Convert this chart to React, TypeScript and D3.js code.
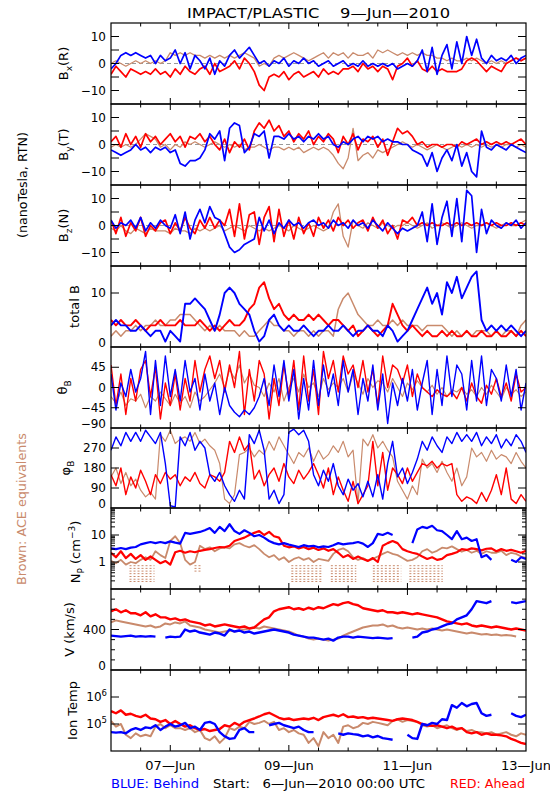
import React from "react";
import * as d3 from "d3";

// ---------- time base: hours since 6-Jun-2010 00:00 UTC, every 2 h ----------
const hours: number[] = d3.range(0, 169, 2);
const dateTickHours = [24, 72, 120, 168];
const dateTickLabels = ["07—Jun", "09—Jun", "11—Jun", "13—Jun"];

// ---------- Bx (R) ----------
const bxAhead = [-4,-1,-3,-5,-2,-3,-4, -3,-4,-2,-4,-3,-5, -2,-4,-1,-3,-4,-2, -1,-4,0,-3,-2, -1,1,-2,2,0,-3, -8,-10,-5,-4, -5,-3,-6,-4,-3,-5,-4, -3,-5,-2,-4,-3,-4,-2, -2,-1,-3,0,-2,-1,-3,-1, -2,-6,-1, 0,2,-1,1, -2,-3,-1,-3,-2, -3,-3,-3,-2, 1,2,1, -1,-3,-1,-2,-3, 0,1,2,1,2];
const bxBehind = [-2,0, 3,4,3,4,3, 2,3,0,3,1,2, 5,0,4,-2,3,1, -2,2,-4,1,-1, 3,5,2,4,6,3, 0,1,-1,1, 0,2,-1,1,0,2,0, 1,-1,0,1,-1,0,1, -1,0,-1,1,-1,0,-1,0, -1,0,-2,-1,0,-1,1, 5,-3,6,-4,3, 7,-2,8,0,10,3,9, 2,0,3,1,2, 1,3,0,2,3];
const bxAce = [0,1,0,-1,0,1,0,1,0,1,0,1, 4,3,4,3,4,3, 3,2,3,2,3,2, 3,2,3,4,3,2, -1,0,-1, 2,3,2,3,4,3,2,1,2, 3,4,2,4,3,4,2,4,3,3,4,2, 5,4,5,4, 3,4,3,4,3,4,3,3,2,2, 1,2,1,1,2,1,2, 1,0,1,0,1,0,1,2,1,2];

// ---------- By (T) ----------
const byAhead = [1,3,-1,4,0,3,-1,4,1,3,0, 2,4,1,3,-1,3,2,4,1,3, 0,-2,2,-3,1,-1,2,-2, 5,8,6,9,5,7, 3,5,1,4,2,5,0,3,1,4, 2,-3,3,0,4,-2,2,1,3,-1,2,-4,1, 6,4,5,3, 0,1,-1, 0,0,-1,0,0,-1, 1,0,1,2,0,1,0,1,0,1,0,1,2,0];
const byBehind = [-2,-3,-4,-3,-2, 0,-2,-1,-3,-1, -2,-1,-3,-2, -7,-8,-6,-6, -5,-2, 4,2,5,-6, 6,8,7, -3,-1, 4,3,5,-5,3, 3,2,4,2,3,1,3,2,4,2,3, 0,-1,1,0, 2,3,1,3,2,3,1,2,1, 1,0,0,-2,-3, -4,-8,-3,-10,-5, -2,-6,0,-8,-3, -10,-12,5, -1,-2,0,-1,-2,0,-1,-2,-3];
const byAce = [-1,0,-1,0,-1,0, 2,4,3,2, -1,0,-2,0,-1, 1,0,1,0,-1,0,1,0, -1,0,-1,0,-2,-1,-1,0,-1,-2,-1, -1,-2,-1,-2,-1,-3,-2,-1,-2,-1,-2, -4,-7,-9,-5,6, -6,-4,-3,-5, -2,-3,-2,-1, 0,1,0,-1,0, -1,-2,-1,0,-1,-2,-1,0,-1,0,-1,0,-1,0,-1,0,-1,0,0,-1,0,-1];

// ---------- Bz (N) ----------
const bzAhead = [2,-3,3,-4,1,-2,3,-4,0,-2,1, 2,-3,1,-2,3,-1,-3,2,-1, 3,-1,2,0, 6,-4,8,-5,4, 5,-7,3, 7,-6,6,-4, 2,-5,3,-3,1,-4, 3,-1,2,-2,3,0,2,-1,1, 2,-2,3,-1,2,-3,0,-5, 2,1,3,0, 1,0,1,0,0, 1,0,1,0,1,0,1,0,1,0,1,0,0,1,0,1,0];
const bzBehind = [2,-1,1,0,2,-1, 3,-2,1,-1,2,0,-1, 4,-3,5,-5,2, 6,1,7,3, 2,-3, -8,-10,-9, -7,-6,-5, 3,-2,2,-3, 1,-1,2,0,1,-1,1, 2,0,1,-1,2,0,1,-1,2,0, 1,-1,2,0,-2,1,-1,-3, -1,-2,-1,0, 5,-6,8,-7,3, 9,-4,10,-6,13, 11,-10,6,-3, 2,0,-1,1,0,2,-1,1];
const bzAce = [-1,-2,0,-2,-3,-1,-2,-3,-1,-2,-2, -2,-3,-1,-2,-2,-3,-1,-2,-1,-2, -1,0,-2,-1,0,-1,-2,0,-1,-2, -1,-2,-1,0,-1,-2,0,-1,-2,-1,0,-1,-2,-1, 5,8,-4,-8,2, 0,-1,1,0,-1,1,0,-1,0, 0,1,0,-1,0,1,-1,0,1,0,-1,0,1,0,-1,0,0,1,0,-1,0,1,0,0,1,2];

// ---------- total B ----------
const btAhead = [5,4,5,4,4,5,4,3,4,4,5, 4,4,4,5,4,4,4,5,4,3, 4,3,4,5,4,4, 5,7,8, 11,12, 9,7,8, 6,5,6,5,5,6, 5,6,5,4,5,5, 4,3,4,2,3,4,3,2,3,4, 8,6,4, 3,4,3, 2,3,2,2,3,2,3,2,2,3,2,2,3,2,2,3,2,2,3,2,3,2];
const btBehind = [4,5,4,4,3, 3,4,3,2,3, 3,1,3, 2,1,8, 8,9,8,7, 5,3,6, 10,11,10, 8,7,6, 3,1,2, 5,6,4,3, 4,3,3,4,3,2,3,3,4,3, 3,4,3,2,3,3, 4,3,3,2,4,3,1, 2,3, 5,7, 9,11,8,10,6, 12,10,13,9,11, 13,14, 5,3, 4,3,4,3,4,3,2,3];
const btAce = [2,3,2,3,3,4, 3,4,4,5,4,4,5, 5,6,6,6,5, 4,3,4,3,4,3,3, 3,2,3,2,2,3, 4,5,4,4,3, 3,2,3,3,2,3,2,3,3,2, 7,9,10,8, 6,5,4, 4,5,4,4,5,4,5,4, 4,4,3,4,4,4,4, 3,2,3,2,3,2,3, 3,3,2,3,2,3,3,2,4,5];

// ---------- theta_B ----------
const thAhead = [50,-40,30,-60,20,-30,40, 60,-20,45,-70,10,-40, 30,-50,20,-30,60,-10,40, 70,20,60,-10,50,0, 80,-60,40,-30,60, 30,-70,20,-40,50,-20, 60,-50,70,-30,40,-60, 80,20,60,-10,70,30,50,0, 60,-10,40,-40,70,0,50, 40,10,50,-20,30,0, -10,-20,-5,-15,-20,-10,-25, 0,-30,10,-20,-35,5,-15, 20,-20,10,-30,30,-10,0];
const thBehind = [30,-50,10,-20,40,-10,20, 80,-60,60,-40,70,-20, 40,-30,60,-10,20,-50, 30,-30,10,-60,0,-40, -55,-65,-50,-60,-45,-20, 20,-40,50,-20,60,-30, 40,-70,20,-50,60,-40,50,-20, 30,-40,60,-10,40,-60,20,-30, 50,-50,30,-80,10,-40, 20,-30,40,-50,10, 60,-60,40,-40,70,-20,50, 30,-50,60,-30,70,-40,40, 20,-30,50,-20,40,-50,10];
const thAce = [-20,-35,-10,-40,-25,-30,-15,-45,-20,-30,-10, -25,-40,-15,-35,-20,-45,-10,-30,-20,-5, 10,30,0,40,20,50,10,30,5, 0,-20,10,-10,20,-30,0, 20,-10,30,0,10,-20,20,-5,10, 0,20,-10,30,10,-15,20,0,15, 10,-10,20,0,-20,10,-5,15,0, -10,5,-15,0,-20,-5,-10,0,-15, -5,-20,0,-15,5,-10,-25,0,-15,-5,-20,-10];

// ---------- phi_B ----------
const phAhead = [150,100,180,60,140,90,170,120,60,150,110,160, 130,150,100,140,120,160, 110,90, 150,140,120,160, 300,250,320,260,290, 130,170,100,150, 180,120,200,140,110,170,130,160, 200,150,90,180,60,140, 80,30,120,20,60,100, 300,100,250,80,180, 150,110,180,120,160, 200,190,210,180,200,190,200, 60,30,50, 40,20,70,30,80, 150,60,180,40, 20,60,30];
const phBehind = [260,320,280,340,300, 340,300,350,320,290,340, 200,10,5, 320,280,340,260,300,270, 150,120,160,100, 60,30,80,40, 330,290,350,260, 40,80,20,60, 340,355,330,350,300, 150,100,170,120,200, 100,60,130,80,110,50, 120,50,150,40,200,300, 140,180,110,160,220, 300,260,320,280,250, 320,290,340,300,330, 300,340,280,320,290,330,270, 310,280,330,300,250];
const phAce = [140,180,110,160,100,130, 80,50,70,40, 330,300,350,290,310, 320,300,340,290,310,280, 260,200,40,20,60,240, 250,270,230,260,240, 300,260,320,280,240,200, 250,230,270,210,260,220,240, 280,250,300,230,260,20, 310,280,330,270,300,260,230, 120,80,40,100,60, 220,180,200,160,210, 160,120,180,100,140, 270,230,250,210,260,220,240, 230,200,250,210,180];

// ---------- Np (cm^-3) ----------
const npAhead = [2.2,1.5,2.5,1.4,2,1.3,1.8,1.2,1.6, 1.2,0.9,1.1,0.8, 2.3,2.6,2.2,2.5,2.3,2.6, 2.8,3,3.3,3.6,3.5,4, 6,7,8,10, 12,14,10,13, 9,8, 4,3.5,3.8,3.2,3.6,3, 3.4,2.8,3.2,2.6,3, 2.2,1.5,1.8,1.3,1.6, 1.3,1.1,1.4,1.0, 4,5,6,5, 3,2.5,2.2,2, 1.6,1.3,1.5,1.2,1.3, 1.8,2,2.3, 3,2.8,3.2,3,2.7,3.1, 3.2,2.5,3,2.6,2.8, 2.5,2.2,2.6];
const npBehind = [3.2,3,3.3,3,3.4,3.6, 4.5,5,5.5,5, 5.5,5,5.8,5.2,4.8, 12,11,12,13, 15,18,12,20,14,25, 14,11,15, 12,9,10,8, 6,5,4.5,5,4.4, 4,3.6,4.2,3.8,4,3.5,3.8,3.6, 4.2,5,4.5,4.8, 5,5.5,4.8,3.6,5, 11,10,12,10, null,null,null, 5, 16,20,18,22,15,14, 10,7,14, 7,8,6,7, 1.5,1.8,1.2, null,null,null, 1.2,1,1.5,1.3];
const npAce = [1.1,0.9,1.2,0.8,1,0.9,1.2, 1.5,1.2,2.5,1.8,1.4, 6,9,5, 1.2,0.8,1, 4,3,3.5,2.5,3.2, 3.5,3.2,4.5,5,4,3.5,4.2,3, 2,1.5,1.8,1.2,1.5,1,1.3, 1.5,1.2,1.4,1,1.3,1.2,1.1, 2,2.8,3.2,2.5, 1.5,1.2,1.4,1.1,1.3, 1.6,2,2.4,2,1.8, 1.4,1.1,1.2,1.5, 2.5,3,2.2,2.6,3.4, 3.2,3.8,3, 2.4,2.8,2.2,2.6,2,2.5,2.2, 2.2,2.6,1.8,2.2,2,1.6,1.4];
// ACE low-density quantized readings: [start hour, end hour, lowest level]
const npAceLowSpans = [[7.5, 17.6, 0.19], [33.8, 36.6, 0.46], [73, 85.7, 0.19], [89, 99.3, 0.19], [106, 117.5, 0.19], [120.8, 134.3, 0.19]];
const npAceLowLevels = [0.19, 0.23, 0.29, 0.37, 0.46, 0.58, 0.73];

// ---------- V (km/s) ----------
const vAhead = [580,600,570,590,560, 560,540,570,530,550,520, 520,500,510,490,500, 480,470,460,440,450,430,440, 450,440, 430,420,430,410,420, 460,500,520, 580,600,610,620, 600,610,595,615,600,620,610, 630,650,640,660,670,650,640, 610,600,590,580,590,570, 570,560,570,560,550,560, 550,540,530,520,500,480, 470,460,450,460, 440,430,440,430,420,430, 420,410,400,410,400,390];
const vBehind = [340,335,330,335,340,330,335,330,335, 330,null, 320,330,325,330, 400,380,390,370, 360,350,370,360,340, 400,380,390,370,380,360, 370,380,390, 400,390,380,370, 350,340,330,320, 320,310,300,310,290, 320,330,330,320,330,325, 320,315,320,315,310,315, null,null,null, 320,330, 370,380,400,410, 430,450,460, 500,520,540, 600,680, 670,660,680, null,null,null, 670,660,670,680];
const vAce = [470,490,480,470,460, 450,440,430,440,420,430, 460,450,470,460,480, 440,430,420,400,390,380,370, 380,390,380,390, 400,410,420,410, 430,420,410,400,390,380, 360,340,330,310,300,310,300, 290,300,310, 340,360,380,400, 420,430,440,440,450,430,440, 420,410,420,410,400, 410,400,410,400,390, 400,390,380,370,360, 370,360,350,355,345,350,340,345, 340,330,null,330];

// ---------- Ion Temp (K) ----------
const tAhead = [3e5,2.5e5,3.2e5,2.2e5,2.4e5, 2e5,1.8e5,2.2e5,1.6e5, 1.5e5,1.2e5,1.4e5,1.0e5,1.3e5, 1e5,8e4,9e4,7e4, 6e4,6.5e4,5.5e4,6e4,6.5e4, 9e4,8e4,1.1e5,9e4,1.2e5, 1.4e5,1.6e5,1.9e5, 2.3e5,2.6e5,2.1e5, 1.7e5,1.5e5,1.6e5,1.4e5,1.5e5, 1.6e5,1.5e5,1.7e5,1.4e5,1.8e5, 2e5,2.2e5,1.9e5,2.3e5,1.8e5, 1.9e5,1.7e5,1.8e5,1.6e5,1.7e5, 1.6e5,1.5e5,1.4e5,1.3e5,1.5e5,1.6e5, 1.5e5,1.4e5,1.2e5, 1e5,9e4,8.5e4,9e4, 8e4,7e4,8e4,6.5e4,7e4, 5e4,4.5e4,5e4,4e4,4.5e4,4e4, 4e4,3.8e4,3.5e4, 2.8e4,2.4e4,2e4,1.8e4];
const tBehind = [5e4,4.8e4,5e4,4.5e4, 6e4,7e4,6e4,7.5e4, 7e4,9e4,6e4, 8e4,1e5,8e4,9e4,1.1e5, 7e4,8e4,6e4, 1.1e5,1.2e5,1e5, 5e4,3.5e4, 2.8e4,3e4, 6e4,7e4,5e4, 5e4,null, null,9e4,1e5,1.1e5, 9e4,8e4,7e4,8e4, 6e4,5e4,5e4, null,null,null,null, 4.5e4,4e4,4.5e4,4.2e4,4e4, 3.5e4,3.8e4,3.2e4,3.6e4,3e4, 2.8e4,2.6e4, null,null, 4e4,3e4,2.8e4, 1e5,9e4,1.1e5,1e5, 1.5e5,1.4e5, 5e5,4e5,6e5,4.5e5,5.5e5,6e5, 2.5e5,2e5,2.2e5, null,null,null, 2.5e5,2e5,1.8e5,2.2e5];
const tAce = [1.3e5,8e4,1e5, 4e4,3e4,4.5e4,3.5e4,4e4,3.5e4, 8e4,1e5,7e4,9e4,7e4, 7e4,6e4,7e4,5e4,6e4, 3e4,2.5e4,3.5e4,2e4,3e4, 7e4,6e4,8e4,7e4, 1.2e5,1e5,1.1e5,1.3e5,1e5,1.2e5, 6e4,7e4,5e4,6e4,4.5e4, 4e4,2e4,3e4,1.5e4, 5e4,3e4,4e4,2e4, 8e4,9e4,7e4,8e4, 1.1e5,1e5,1.2e5,1.1e5,1e5,9e4, 1.3e5,1.5e5,1.2e5,1.4e5,1.3e5,1.2e5, 9e4,8e4,9e4,7e4,8e4,9e4, 7e4,6e4,7e4,5.5e4,6e4,5e4, 5e4,4.5e4,5e4,4e4,4.5e4,5e4, 4e4,3.5e4,4.5e4,4e4];

// ---------- axis ticks / labels ----------
const bTicks = [-10, -5, 0, 5, 10];
const bTickLabels: [number, string][] = [[-10, "−10"], [0, "0"], [10, "10"]];
const btTicks = [10];
const btTickLabels: [number, string][] = [[0, "0"], [10, "10"]];
const thTicks = [-45, 0, 45];
const thTickLabels: [number, string][] = [[-90, "−90"], [-45, "−45"], [0, "0"], [45, "45"]];
const phTicks = [90, 180, 270];
const phTickLabels: [number, string][] = [[0, "0"], [90, "90"], [180, "180"], [270, "270"]];
const npTicks = [1, 10];
const npTickLabels: [number, string][] = [[1, "1"], [10, "10"]];
const vTicks = [400];
const vMinorTicks = [100, 200, 300, 500, 600, 700];
const vTickLabels: [number, string][] = [[0, "0"], [400, "400"]];
const tTicks = [1e5, 1e6];
const tTickLabels: [number, string][] = [[1e5, "5"], [1e6, "6"]];

const BLUE = "#0000ff";
const RED = "#ff0000";
const BROWN = "#c98a6c";
const FONT = "'DejaVu Sans', Verdana, sans-serif";

const X0 = 111;
const X1 = 526;
const TOP = 23;
const PH = 80.9;
const panelTop = (i: number) => Math.round(TOP + i * PH);

type Panel = {
  log?: boolean;
  domain: [number, number];
  ticks: number[];
  minor?: number[];
  labels: [number, string][];
  expLabels?: boolean;
  series: [(number | null)[], (number | null)[], (number | null)[]];
  sw: number;
  zero?: boolean;
  titleX: number;
  titleY?: number;
  title: React.ReactNode;
};

const npMinor: number[] = [0.1, 1, 10].flatMap((d) => d3.range(2, 10).map((k) => k * d));

const panels: Panel[] = [
  { domain: [-15, 15], ticks: bTicks, labels: bTickLabels, series: [bxAce, bxAhead, bxBehind], sw: 1.7, zero: true, titleX: 68,
    title: <><tspan>B</tspan><tspan dy={3.5} fontSize={9}>x</tspan><tspan dy={-3.5}>(R)</tspan></> },
  { domain: [-15, 15], ticks: bTicks, labels: bTickLabels, series: [byAce, byAhead, byBehind], sw: 1.7, zero: true, titleX: 68,
    title: <><tspan>B</tspan><tspan dy={3.5} fontSize={9}>y</tspan><tspan dy={-3.5}>(T)</tspan></> },
  { domain: [-15, 15], ticks: bTicks, labels: bTickLabels, series: [bzAce, bzAhead, bzBehind], sw: 1.7, zero: true, titleX: 68,
    title: <><tspan>B</tspan><tspan dy={3.5} fontSize={9}>z</tspan><tspan dy={-3.5}>(N)</tspan></> },
  { domain: [0, 15], ticks: btTicks, labels: btTickLabels, series: [btAce, btAhead, btBehind], sw: 1.9, titleX: 79,
    title: <tspan>total B</tspan> },
  { domain: [-90, 90], ticks: thTicks, labels: thTickLabels, series: [thAce, thAhead, thBehind], sw: 1.4, titleX: 67,
    title: <><tspan>θ</tspan><tspan dy={3.5} fontSize={9}>B</tspan></> },
  { domain: [0, 360], ticks: phTicks, labels: phTickLabels, series: [phAce, phAhead, phBehind], sw: 1.4, titleX: 70,
    title: <><tspan>φ</tspan><tspan dy={3.5} fontSize={9}>B</tspan></> },
  { log: true, domain: [0.1, 100], ticks: npTicks, minor: npMinor, labels: npTickLabels, series: [npAce, npAhead, npBehind], sw: 2.2, titleX: 80, titleY: 552,
    title: <><tspan>N</tspan><tspan dy={3.5} fontSize={9}>P</tspan><tspan dy={-3.5}> (cm</tspan><tspan dy={-5} fontSize={9}>−3</tspan><tspan dy={5}>)</tspan></> },
  { domain: [0, 800], ticks: vTicks, minor: vMinorTicks, labels: vTickLabels, series: [vAce, vAhead, vBehind], sw: 2.4, titleX: 74,
    title: <tspan>V (km/s)</tspan> },
  { log: true, domain: [1e4, 1e7], ticks: tTicks, labels: tTickLabels, expLabels: true, series: [tAce, tAhead, tBehind], sw: 2.4, titleX: 77,
    title: <tspan>Ion Temp</tspan> },
];

export default function App() {
  const x = d3.scaleLinear().domain([0, 168]).range([X0, X1]);
  const minorHours = d3.range(12, 168, 12);
  const colors = [BROWN, RED, BLUE];
  const bottom = panelTop(panels.length);

  return (
    <svg
      width={550}
      height={800}
      viewBox="0 0 550 800"
      style={{ position: "absolute", left: 0, top: 0, background: "#fff" }}
      fontFamily={FONT}
    >
      <rect x={0} y={0} width={550} height={800} fill="#fff" />
      <defs>
        {panels.map((p, i) => (
          <clipPath id={`clip${i}`} key={i}>
            <rect x={X0} y={panelTop(i)} width={X1 - X0} height={panelTop(i + 1) - panelTop(i)} />
          </clipPath>
        ))}
      </defs>

      <text x={318.5} y={17.5} fontSize={14.5} textAnchor="middle" textLength={263} lengthAdjust="spacingAndGlyphs" xmlSpace="preserve" style={{ whiteSpace: "pre" }}>
        IMPACT/PLASTIC    9—Jun—2010
      </text>

      <text transform="translate(27,185) rotate(-90)" fontSize={13} textAnchor="middle" textLength={106} lengthAdjust="spacingAndGlyphs">
        (nanoTesla, RTN)
      </text>
      <text transform="translate(26,509) rotate(-90)" fontSize={13} textAnchor="middle" fill={BROWN} textLength={152} lengthAdjust="spacingAndGlyphs">
        Brown: ACE equivalents
      </text>

      {panels.map((p, i) => {
        const y0 = panelTop(i);
        const y1 = panelTop(i + 1);
        const y: any = (p.log ? d3.scaleLog() : d3.scaleLinear()).domain(p.domain).range([y1, y0]);
        const line = d3
          .line<number | null>()
          .defined((d) => d !== null && d !== undefined)
          .x((_, j) => x(hours[j]))
          .y((d) => y(d as number));
        return (
          <g key={i}>
            <g clipPath={`url(#clip${i})`}>
              {p.zero && (
                <line x1={X0} x2={X1} y1={y(0)} y2={y(0)} stroke="#999" strokeDasharray="4 3" strokeWidth={1} />
              )}
              {i === 6 &&
                npAceLowSpans.flatMap((s, k) =>
                  npAceLowLevels
                    .filter((lv) => lv >= s[2])
                    .map((lv, m) => (
                      <line key={`${k}-${m}`} x1={x(s[0])} x2={x(s[1])} y1={y(lv)} y2={y(lv)} stroke={BROWN} strokeWidth={1} strokeDasharray="2 2" />
                    ))
                )}
              {p.series.map((s, k) => (
                <path
                  key={k}
                  d={line(s) || ""}
                  fill="none"
                  stroke={colors[k]}
                  strokeWidth={k === 0 ? Math.max(1.2, p.sw - 0.4) : p.sw}
                  strokeLinejoin="round"
                />
              ))}
            </g>
            <rect x={X0} y={y0} width={X1 - X0} height={y1 - y0} fill="none" stroke="#000" strokeWidth={1.2} />
            {minorHours.map((h) => {
              const len = dateTickHours.includes(h) ? 6 : 3.5;
              return (
                <g key={h} stroke="#000" strokeWidth={1}>
                  <line x1={x(h)} x2={x(h)} y1={y0} y2={y0 + len} />
                  <line x1={x(h)} x2={x(h)} y1={y1} y2={y1 - len} />
                </g>
              );
            })}
            {p.ticks.map((t) => (
              <g key={`t${t}`} stroke="#000" strokeWidth={1}>
                <line x1={X0} x2={X0 + 8} y1={y(t)} y2={y(t)} />
                <line x1={X1} x2={X1 - 8} y1={y(t)} y2={y(t)} />
              </g>
            ))}
            {(p.minor || []).map((t) => (
              <g key={`m${t}`} stroke="#000" strokeWidth={1}>
                <line x1={X0} x2={X0 + 4} y1={y(t)} y2={y(t)} />
                <line x1={X1} x2={X1 - 4} y1={y(t)} y2={y(t)} />
              </g>
            ))}
            {p.labels.map(([v, s]) => {
              let ty = y(v);
              if (Math.abs(ty - y1) < 1) ty -= 4;
              return p.expLabels ? (
                <text key={`l${v}`} x={107} y={ty} dy="0.35em" fontSize={12} textAnchor="end">
                  <tspan>10</tspan>
                  <tspan dy={-5} fontSize={8.5}>{s}</tspan>
                </text>
              ) : (
                <text key={`l${v}`} x={106} y={ty} dy="0.35em" fontSize={12} textAnchor="end">
                  {s}
                </text>
              );
            })}
            <text transform={`translate(${p.titleX},${p.titleY ?? (y0 + y1) / 2}) rotate(-90)`} fontSize={13} textAnchor="middle">
              {p.title}
            </text>
          </g>
        );
      })}

      {dateTickHours.map((h, k) => (
        <text key={h} x={x(h)} y={bottom + 18.5} fontSize={13} textAnchor="middle">
          {dateTickLabels[k]}
        </text>
      ))}
      <text x={111} y={787.5} fontSize={13} fill={BLUE} textLength={88} lengthAdjust="spacingAndGlyphs">
        BLUE: Behind
      </text>
      <text x={213} y={787.5} fontSize={13} textLength={212} lengthAdjust="spacingAndGlyphs" xmlSpace="preserve" style={{ whiteSpace: "pre" }}>
        Start:   6—Jun—2010 00:00 UTC
      </text>
      <text x={450} y={787.5} fontSize={13} fill={RED} textLength={75} lengthAdjust="spacingAndGlyphs">
        RED: Ahead
      </text>
    </svg>
  );
}
